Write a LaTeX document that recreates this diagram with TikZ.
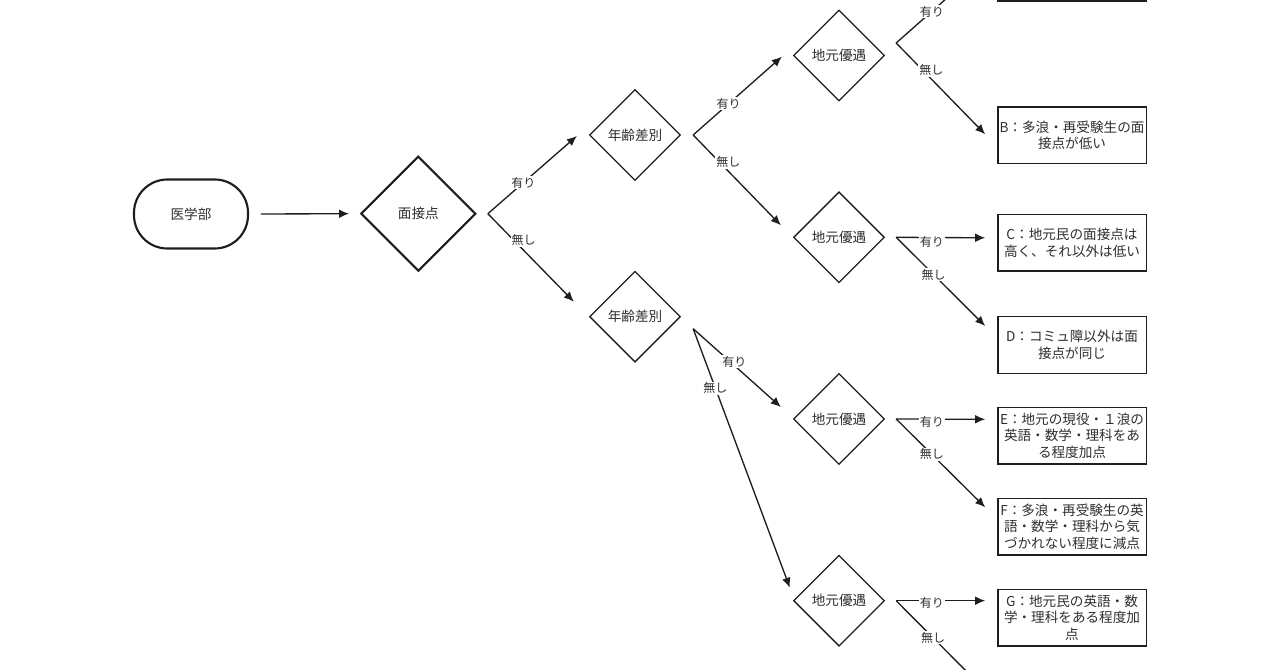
\documentclass[tikz,border=0pt]{standalone}
\usepackage{fontspec}
\setmainfont{Noto Sans CJK JP}
\usetikzlibrary{shapes.geometric,arrows.meta,calc}
\definecolor{ln}{HTML}{1E1E1E}
\definecolor{tx}{HTML}{2E2E2E}
\begin{document}
\begin{tikzpicture}[x=0.75pt,y=-0.75pt,
  every node/.style={text=tx},
  nodefont/.style={font=\fontsize{10.2pt}{12.4pt}\selectfont},
  term/.style={draw=ln,line width=1.6pt,rounded corners=25pt,minimum width=85.5pt,minimum height=51.75pt,inner sep=0pt,nodefont},
  bigdec/.style={draw=ln,line width=1.6pt,diamond,aspect=1,minimum width=86.25pt,minimum height=86.25pt,inner sep=0pt,nodefont},
  dec/.style={draw=ln,line width=1pt,diamond,aspect=1,minimum width=68.25pt,minimum height=68.25pt,inner sep=0pt,nodefont},
  res/.style={draw=ln,line width=1pt,minimum width=111.25pt,minimum height=42.4pt,inner sep=1pt,align=center,nodefont},
  arr/.style={draw=ln,line width=1pt,-{Latex[length=7.5pt,width=6.5pt]}},
  lbl/.style={fill=white,inner sep=0.8pt,font=\fontsize{9pt}{10.5pt}\selectfont}
]
\useasboundingbox (0,0) rectangle (1280,670);
\clip (0,0) rectangle (1280,670);

% nodes
\node[term] (ido) at (191,214) {医学部};
\node[bigdec] (men) at (418.3,213.7) {面接点};
\node[dec] (nt) at (635,135) {年齢差別};
\node[dec] (nb) at (635,316.7) {年齢差別};
\node[dec] (j1) at (839,55.5) {地元優遇};
\node[dec] (j2) at (839,237.3) {地元優遇};
\node[dec] (j3) at (839,419) {地元優遇};
\node[dec] (j4) at (839,600.7) {地元優遇};

\node[res] (A) at (1072,-27.3) {};
\node[res] (B) at (1072,135.3) {B：多浪・再受験生の面\\接点が低い};
\node[res] (C) at (1072,242.8) {C：地元民の面接点は\\高く、それ以外は低い};
\node[res] (D) at (1072,345) {D：コミュ障以外は面\\接点が同じ};
\node[res] (E) at (1072,435.7) {E：地元の現役・１浪の\\英語・数学・理科をあ\\る程度加点};
\node[res] (F) at (1072,526.7) {F：多浪・再受験生の英\\語・数学・理科から気\\づかれない程度に減点};
\node[res] (G) at (1072,617.7) {G：地元民の英語・数\\学・理科をある程度加\\点};
\coordinate (H) at (986,691);

% connectors
\draw[arr] ($(ido.east)+(11.7,0)$) -- ($(men.west)+(-10.7,0)$);

\draw[arr] ($(men.east)+(11,0)$) -- node[lbl,pos=0.4] {有り} ($(nt.west)+(-12,1)$);
\draw[arr] ($(men.east)+(11,0)$) -- node[lbl,pos=0.3,xshift=7.5pt] {無し} ($(nb.west)+(-15,-15)$);

\draw[arr] ($(nt.east)+(12,0)$) -- node[lbl,pos=0.4] {有り} ($(j1.west)+(-11,1.2)$);
\draw[arr] ($(nt.east)+(12,0)$) -- node[lbl,pos=0.3,xshift=6.75pt] {無し} ($(j2.west)+(-12,-12)$);

\draw[arr] ($(nb.east)+(12,12)$) -- node[lbl,pos=0.47,yshift=3pt] {有り} ($(j3.west)+(-12,-12)$);
\draw[arr] ($(nb.east)+(12,12)$) -- node[lbl,pos=0.23] {無し} ($(j4.west)+(-3,-13)$);

\draw[arr] ($(j1.east)+(11,-12.5)$) -- node[lbl,pos=0.4] {有り} ($(A.west)+(-12,-8.5)$);
\draw[arr] ($(j1.east)+(11,-12.5)$) -- node[lbl,pos=0.3,xshift=6.4pt] {無し} ($(B.west)+(-12,-1)$);

\draw[arr] ($(j2.east)+(11,0)$) -- node[lbl,pos=0.4,yshift=-3pt] {有り} ($(C.west)+(-12,-5)$);
\draw[arr] ($(j2.east)+(11,0)$) -- node[lbl,pos=0.42] {無し} ($(D.west)+(-12,-19)$);

\draw[arr] ($(j3.east)+(11,0)$) -- node[lbl,pos=0.4,yshift=-2pt] {有り} ($(E.west)+(-12,-16.4)$);
\draw[arr] ($(j3.east)+(11,0)$) -- node[lbl,pos=0.4] {無し} ($(F.west)+(-12,-19.4)$);

\draw[arr] ($(j4.east)+(11,0)$) -- node[lbl,pos=0.4,yshift=-1.5pt] {有り} ($(G.west)+(-12,-17)$);
\draw[arr] ($(j4.east)+(11,0)$) -- node[lbl,pos=0.41] {無し} (H);
\end{tikzpicture}
\end{document}
